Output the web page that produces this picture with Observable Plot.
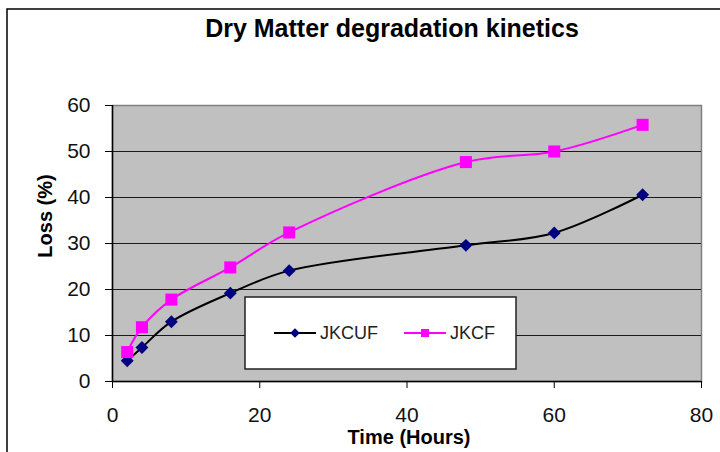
<!DOCTYPE html>
<html><head><meta charset="utf-8">
<script src="https://cdn.jsdelivr.net/npm/d3@7"></script>
<script src="https://cdn.jsdelivr.net/npm/@observablehq/plot@0.6"></script>
<style>body{margin:0;background:#fff}</style>
</head><body><div id="chart"></div>
<script>
const hours = [2, 4, 8, 16, 24, 48, 60, 72];
const jkcuf = [4.5, 7.4, 13.0, 19.2, 24.1, 29.6, 32.3, 40.6];
const jkcf  = [6.4, 11.8, 17.8, 24.8, 32.4, 47.7, 50.0, 55.8];
const xTicks = [0, 20, 40, 60, 80];
const yTicks = [0, 10, 20, 30, 40, 50, 60];
const seriesNames = ["JKCUF", "JKCF"];
const titleText = "Dry Matter degradation kinetics";
const xLabel = "Time (Hours)";
const yLabel = "Loss (%)";

const font = "'Liberation Sans', Arial, sans-serif";
const W = 720, H = 452;
const mL = 112, mR = 19, mT = 105, mB = 71;

const plot = Plot.plot({
  width: W, height: H,
  marginLeft: mL, marginRight: mR, marginTop: mT, marginBottom: mB,
  style: {fontFamily: font, fontSize: "21px", color: "#111", background: "white"},
  x: {domain: [0, 80], label: null},
  y: {domain: [0, 60], label: null},
  marks: [
    Plot.frame({fill: "#c0c0c0", stroke: "#808080", strokeWidth: 1.5}),
    Plot.gridY(yTicks.slice(1, -1), {stroke: "#1a1a1a", strokeOpacity: 1, strokeWidth: 1.2}),
    Plot.ruleX([0], {stroke: "#000", strokeWidth: 1.5}),
    Plot.ruleY([0], {stroke: "#000", strokeWidth: 1.5}),
    Plot.axisY({ticks: yTicks, tickSize: 7, tickPadding: 15, label: null, stroke: "#000", fill: "#111"}),
    Plot.axisX({ticks: xTicks, tickSize: 7, tickPadding: 19, label: null, stroke: "#000", fill: "#111"}),
    Plot.line(hours, {x: hours, y: jkcuf, curve: "catmull-rom", stroke: "#000", strokeWidth: 2}),
    Plot.line(hours, {x: hours, y: jkcf, curve: "catmull-rom", stroke: "#ff00ff", strokeWidth: 2}),
    Plot.dot(hours, {x: hours, y: jkcuf, symbol: "diamond2", fill: "#000080", r: 5.8}),
    Plot.dot(hours, {x: hours, y: jkcf, symbol: "square", fill: "#ff00ff", r: 6.8})
  ]
});
document.getElementById("chart").appendChild(plot);

const svg = d3.select(plot);
// outer chart border
svg.append("rect").attr("x", 7).attr("y", 9).attr("width", W + 20).attr("height", H + 20)
  .attr("fill", "none").attr("stroke", "#000").attr("stroke-width", 1.5);
// title
svg.append("text").attr("x", 392).attr("y", 37).attr("text-anchor", "middle")
  .attr("font-family", font).attr("font-weight", "bold").attr("font-size", 25).attr("fill", "#000")
  .text(titleText);
// x label
svg.append("text").attr("x", 409).attr("y", 444).attr("text-anchor", "middle")
  .attr("font-family", font).attr("font-weight", "bold").attr("font-size", 20).attr("fill", "#000")
  .text(xLabel);
// y label
svg.append("text").attr("transform", "translate(52,216) rotate(-90)").attr("text-anchor", "middle")
  .attr("font-family", font).attr("font-weight", "bold").attr("font-size", 20).attr("fill", "#000")
  .text(yLabel);
// legend
const lg = svg.append("g");
lg.append("rect").attr("x", 245).attr("y", 297).attr("width", 271).attr("height", 72)
  .attr("fill", "#fff").attr("stroke", "#222").attr("stroke-width", 1.5);
const entries = [
  {name: seriesNames[0], x0: 274, color: "#000", mfill: "#000080", sym: d3.symbolDiamond2, size: 60},
  {name: seriesNames[1], x0: 404, color: "#ff00ff", mfill: "#ff00ff", sym: d3.symbolSquare, size: 64}
];
for (const e of entries) {
  lg.append("line").attr("x1", e.x0).attr("x2", e.x0 + 42).attr("y1", 333).attr("y2", 333)
    .attr("stroke", e.color).attr("stroke-width", 2);
  lg.append("path").attr("d", d3.symbol(e.sym, e.size)()).attr("transform", `translate(${e.x0 + 21},333)`)
    .attr("fill", e.mfill);
  lg.append("text").attr("x", e.x0 + 46).attr("y", 339).attr("text-anchor", "start").attr("font-family", font)
    .attr("font-size", 18).attr("fill", "#222").text(e.name);
}
</script>
</body></html>
